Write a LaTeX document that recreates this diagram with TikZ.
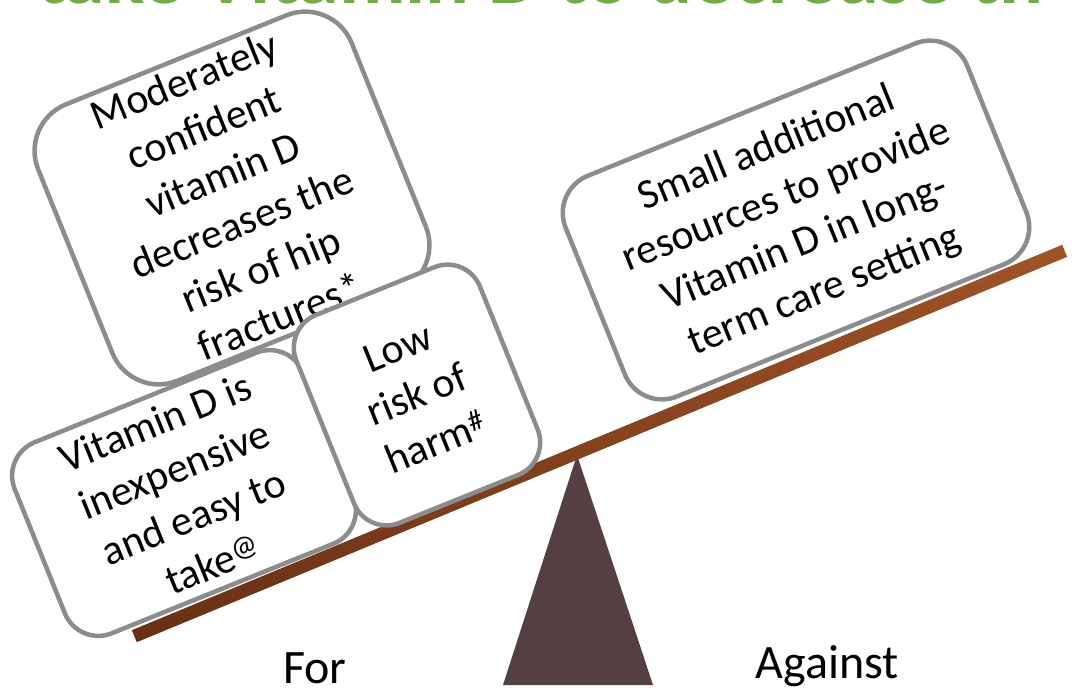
\documentclass[tikz,border=0pt]{standalone}
\usepackage{fontspec}
\setmainfont{Carlito}
\usepackage{tikz}
\definecolor{cardgray}{RGB}{140,140,140}
\definecolor{woodlight}{RGB}{160,84,40}
\definecolor{wooddark}{RGB}{104,48,20}
\definecolor{standbrown}{RGB}{84,63,66}
\definecolor{titlegreen}{RGB}{112,173,71}
\tikzstyle{card} = [rectangle, 
draw=cardgray, 
line width=4.5pt, 
fill=white, 
align=center, 
inner sep=0pt, 
rotate=22, 
font=\fontsize{42}{51}\selectfont]
\tikzstyle{beam} = [rectangle, 
minimum width=1007pt, 
minimum height=13pt, 
inner sep=0pt, 
rotate=22.5, 
top color=woodlight, 
bottom color=wooddark]
\tikzstyle{side} = [font=\fontsize{48}{58}\selectfont, anchor=base]
\tikzstyle{banner} = [font=\fontsize{82}{98}\bfseries\selectfont, 
text=titlegreen, 
anchor=south west, 
text depth=0pt, 
inner sep=0pt]

\begin{document}
\begin{tikzpicture}[x=1pt, y=-1pt]
\useasboundingbox (0,0) rectangle (1075,693);
\clip (0,0) rectangle (1075,693);

\node (heading) [banner] at (37,4) {take Vitamin D to decrease th};

% see-saw
\fill[standbrown] (577,455) -- (653,685) -- (503,685) -- cycle;
\node (plank) [beam] at (599.5,443.5) {};

\node (res) [card, rounded corners=40pt, minimum width=433pt, minimum height=238pt] at (796,220) {Small additional\\resources to provide\\Vitamin D in long-\\term care setting};

\node (hip) [card, rounded corners=50pt, minimum width=338pt, minimum height=298pt] at (232,198) {Moderately\\confident\\vitamin D\\decreases the\\risk of hip\\fractures*};
\node (cost) [card, rounded corners=36pt, minimum width=311pt, minimum height=206pt] at (184,493) {Vitamin D is\\inexpensive\\and easy to\\take\textsuperscript{@}};
\node (harm) [card, rounded corners=35pt, minimum width=198pt, minimum height=224pt] at (417,395) {Low\\risk of\\harm\textsuperscript{\#}};

\node (for) [side] at (315,683) {For};
\node (against) [side] at (827,678) {Against};

\end{tikzpicture}
\end{document}
